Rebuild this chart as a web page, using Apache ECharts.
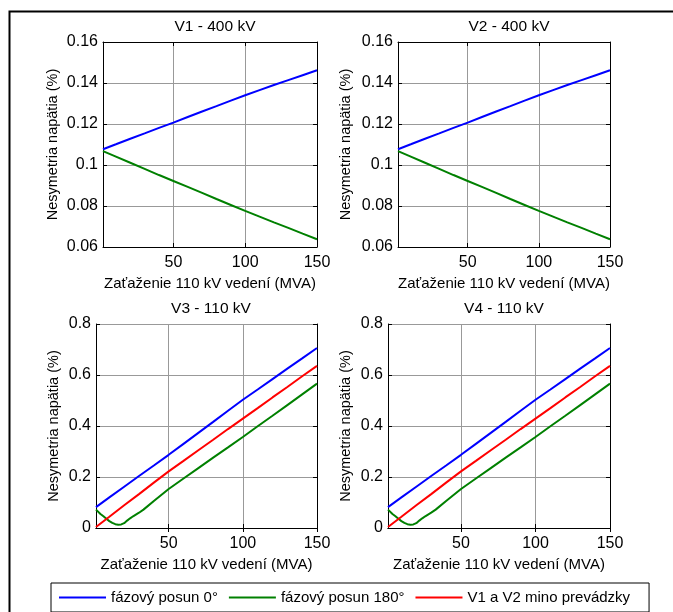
<!DOCTYPE html>
<html>
<head>
<meta charset="utf-8">
<script src="https://cdn.jsdelivr.net/npm/echarts@6/dist/echarts.min.js"></script>
<style>
html,body{margin:0;padding:0;background:#fff;}
#chart{width:673px;height:612px;}
</style>
</head>
<body>
<div id="chart"></div>
<script>
// ---- data ----
const titles = ['V1 - 400 kV', 'V2 - 400 kV', 'V3 - 110 kV', 'V4 - 110 kV'];
const seriesNames = ['fázový posun 0°', 'fázový posun 180°', 'V1 a V2 mino prevádzky'];
const xTickLabels = [50, 100, 150];
const xLoad = [1, 10, 20, 30, 40, 50, 60, 70, 80, 90, 100, 110, 120, 130, 140, 150];

// 400 kV nodes (V1, V2)
const v400Shift0   = [0.1077, 0.1101, 0.1128, 0.1154, 0.1181, 0.1207, 0.1234, 0.1261, 0.1287, 0.1314, 0.1340, 0.1365, 0.1390, 0.1414, 0.1438, 0.1462];
const v400Shift180 = [0.1068, 0.1041, 0.1011, 0.0981, 0.0951, 0.0922, 0.0893, 0.0864, 0.0834, 0.0805, 0.0776, 0.0748, 0.0720, 0.0693, 0.0665, 0.0638];

// 110 kV nodes (V3, V4)
const v110Shift0   = [0.082, 0.120, 0.162, 0.204, 0.245, 0.287, 0.330, 0.373, 0.416, 0.460, 0.503, 0.543, 0.584, 0.625, 0.665, 0.706];
const v110Outage   = [0.004, 0.044, 0.089, 0.133, 0.178, 0.222, 0.263, 0.305, 0.346, 0.388, 0.429, 0.470, 0.512, 0.553, 0.595, 0.636];
const xLoad180     = [1, 4, 6, 8, 10, 12, 14, 16, 18, 20, 22, 24, 26, 30, 33, 40, 50, 60, 70, 80, 90, 100, 110, 120, 130, 140, 150];
const v110Shift180 = [0.072, 0.055, 0.046, 0.036, 0.027, 0.020, 0.015, 0.013, 0.014, 0.019, 0.029, 0.038, 0.046, 0.060, 0.072, 0.106, 0.153, 0.194, 0.235, 0.276, 0.316, 0.357, 0.399, 0.440, 0.482, 0.524, 0.566];

const yRanges = [[0.06, 0.16, 0.02], [0.06, 0.16, 0.02], [0, 0.8, 0.2], [0, 0.8, 0.2]];
const colors = ['#0000ff', '#008000', '#ff0000'];

// ---- layout ----
const FONT = "'Liberation Sans', Arial, sans-serif";
const grids = [
  {left: 103, top: 42, width: 214, height: 205},
  {left: 398, top: 42, width: 212, height: 205},
  {left: 96, top: 324, width: 221, height: 204},
  {left: 388, top: 324, width: 222, height: 204}
];
const yNameGap = [43, 45, 35, 35];
const titlePos = [{x: 210, y: 14}, {x: 504, y: 14}, {x: 206, y: 296}, {x: 499, y: 296}];

function pairs(xs, ys) { return xs.map((x, i) => [x, ys[i]]); }

const xAxes = [], yAxes = [], series = [], titleArr = [];
grids.forEach((g, i) => {
  const [ymin, ymax, yint] = yRanges[i];
  xAxes.push({
    type: 'value', gridIndex: i, min: 1, max: 150, position: 'bottom',
    name: 'Zaťaženie 110 kV vedení (MVA)', nameLocation: 'middle', nameGap: 29,
    nameTextStyle: {fontFamily: FONT, fontSize: 15, color: '#000'},
    axisLine: {show: true, lineStyle: {color: '#000', width: 1}},
    axisTick: {show: true, inside: true, length: 4, lineStyle: {color: '#000'}, customValues: xTickLabels},
    axisLabel: {show: true, customValues: xTickLabels, fontFamily: FONT, fontSize: 16, color: '#000', margin: 8},
    splitLine: {show: true, lineStyle: {color: '#999999', width: 1}}
  });
  xAxes.push({
    type: 'value', gridIndex: i, min: 1, max: 150, position: 'top',
    axisLine: {show: true, lineStyle: {color: '#000', width: 1}},
    axisTick: {show: true, inside: true, length: 4, lineStyle: {color: '#000'}, customValues: xTickLabels},
    axisLabel: {show: false}, splitLine: {show: false}
  });
  yAxes.push({
    type: 'value', gridIndex: i, min: ymin, max: ymax, interval: yint, position: 'left',
    name: 'Nesymetria napätia (%)', nameLocation: 'middle', nameGap: yNameGap[i],
    nameTextStyle: {fontFamily: FONT, fontSize: 14.5, color: '#000'},
    axisLine: {show: true, lineStyle: {color: '#000', width: 1}},
    axisTick: {show: true, inside: true, length: 4, lineStyle: {color: '#000'}},
    axisLabel: {fontFamily: FONT, fontSize: 16, color: '#000', margin: 5},
    splitLine: {show: true, lineStyle: {color: '#999999', width: 1}}
  });
  yAxes.push({
    type: 'value', gridIndex: i, min: ymin, max: ymax, interval: yint, position: 'right',
    axisLine: {show: true, lineStyle: {color: '#000', width: 1}},
    axisTick: {show: true, inside: true, length: 4, lineStyle: {color: '#000'}},
    axisLabel: {show: false}, splitLine: {show: false}
  });
  titleArr.push({
    text: titles[i], left: titlePos[i].x, top: titlePos[i].y, textAlign: 'center',
    textStyle: {fontFamily: FONT, fontSize: 15.5, fontWeight: 'normal', color: '#000'}
  });
  const xi = i * 2, yi = i * 2;
  const lineSeries = (name, data, c) => ({
    name, type: 'line', xAxisIndex: xi, yAxisIndex: yi, data, symbol: 'none',
    lineStyle: {color: c, width: 2}, itemStyle: {color: c}, animation: false, z: 3
  });
  if (i < 2) {
    series.push(lineSeries(seriesNames[0], pairs(xLoad, v400Shift0), colors[0]));
    series.push(lineSeries(seriesNames[1], pairs(xLoad, v400Shift180), colors[1]));
  } else {
    series.push(lineSeries(seriesNames[0], pairs(xLoad, v110Shift0), colors[0]));
    series.push(lineSeries(seriesNames[1], pairs(xLoad180, v110Shift180), colors[1]));
    series.push(lineSeries(seriesNames[2], pairs(xLoad, v110Outage), colors[2]));
  }
});

const chart = echarts.init(document.getElementById('chart'), null, {renderer: 'canvas'});
chart.setOption({
  backgroundColor: '#fff',
  animation: false,
  title: titleArr,
  grid: grids.map(g => Object.assign({containLabel: false, show: false}, g)),
  xAxis: xAxes,
  yAxis: yAxes,
  legend: {
    data: seriesNames, left: 51, top: 583,
    icon: 'rect',
    padding: [7, 19, 7, 8], itemGap: 11, itemWidth: 47, itemHeight: 2,
    borderColor: '#000', borderWidth: 1, backgroundColor: '#fff',
    textStyle: {fontFamily: FONT, fontSize: 15, color: '#000'}
  },
  graphic: [{
    type: 'rect', shape: {x: 9.5, y: 11.5, width: 720, height: 720},
    style: {fill: 'none', stroke: '#000', lineWidth: 2}, silent: true, z: 100
  }],
  series
});
</script>
</body>
</html>
